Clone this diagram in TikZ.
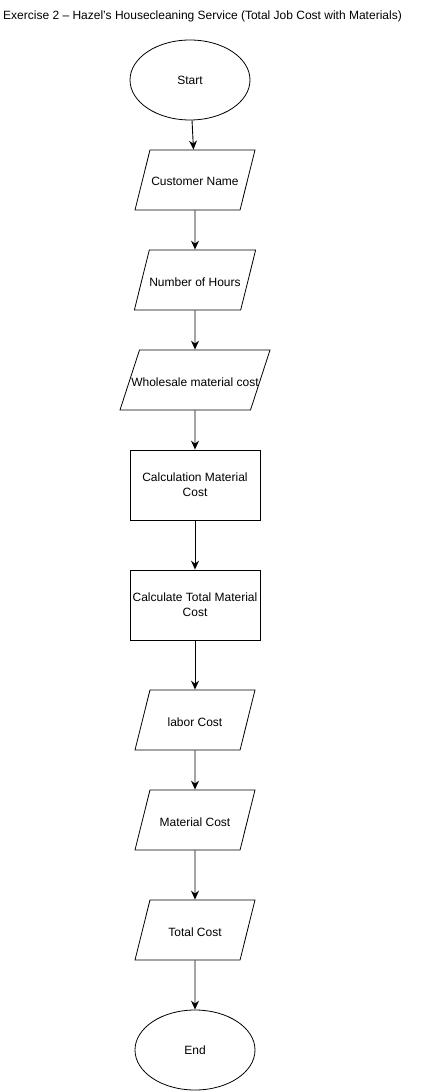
\documentclass[tikz,border=0pt]{standalone}
\usepackage{fontspec}
\setmainfont{Liberation Sans}
\usetikzlibrary{shapes.geometric,arrows.meta}

\begin{document}
\begin{tikzpicture}[x=1pt, y=-1pt,
    terminal/.style={ellipse, draw, line width=0.8pt, minimum width=120pt, minimum height=80pt, inner sep=0pt},
    io/.style={trapezium, draw, line width=0.8pt, trapezium left angle=76, trapezium right angle=104,
      trapezium stretches body=true, minimum width=120pt, text height=12pt, text depth=0pt,
      inner xsep=0pt, inner ysep=24pt},
    process/.style={rectangle, draw, line width=0.8pt, minimum width=130pt, minimum height=70pt, align=center, inner sep=0pt},
    flow/.style={-{Stealth[length=9pt,width=8pt,inset=3pt]}, line width=0.9pt},
    every node/.style={font=\fontsize{12}{15}\selectfont}]
          \useasboundingbox (0,0) rectangle (430,1091);

          \node[anchor=base west, inner sep=0pt, font=\fontsize{12}{14}\selectfont] (title) at (3,19.5)
            {Exercise 2 – Hazel’s Housecleaning Service (Total Job Cost with Materials)};

          \node[terminal] (start)     at (190,80)   {Start};

          \node[io]       (custname)  at (195,180)  {Customer Name};
          \node[io]       (hours)     at (195,280)  {Number of Hours};
          \node[io, trapezium left angle=72, trapezium right angle=108, minimum width=150pt, inner xsep=-12pt]
                          (wholesale) at (195,380)  {Wholesale material cost};

          \node[process]  (calcmat)   at (195,485)  {Calculation Material\\Cost};
          \node[process]  (calctotal) at (195,605)  {Calculate Total Material\\Cost};

          \node[io]       (labor)     at (195,720)  {labor Cost};
          \node[io]       (material)  at (195,820)  {Material Cost};
          \node[io]       (total)     at (195,930)  {Total Cost};

          \node[terminal] (stop)      at (195,1050) {End};

          \draw[flow] (start)     -- (custname);
          \draw[flow] (custname)  -- (hours);
          \draw[flow] (hours)     -- (wholesale);
          \draw[flow] (wholesale) -- (calcmat);
          \draw[flow] (calcmat)   -- (calctotal);
          \draw[flow] (calctotal) -- (labor);
          \draw[flow] (labor)     -- (material);
          \draw[flow] (material)  -- (total);
          \draw[flow] (total)     -- (stop);
        \end{tikzpicture}
\end{document}
